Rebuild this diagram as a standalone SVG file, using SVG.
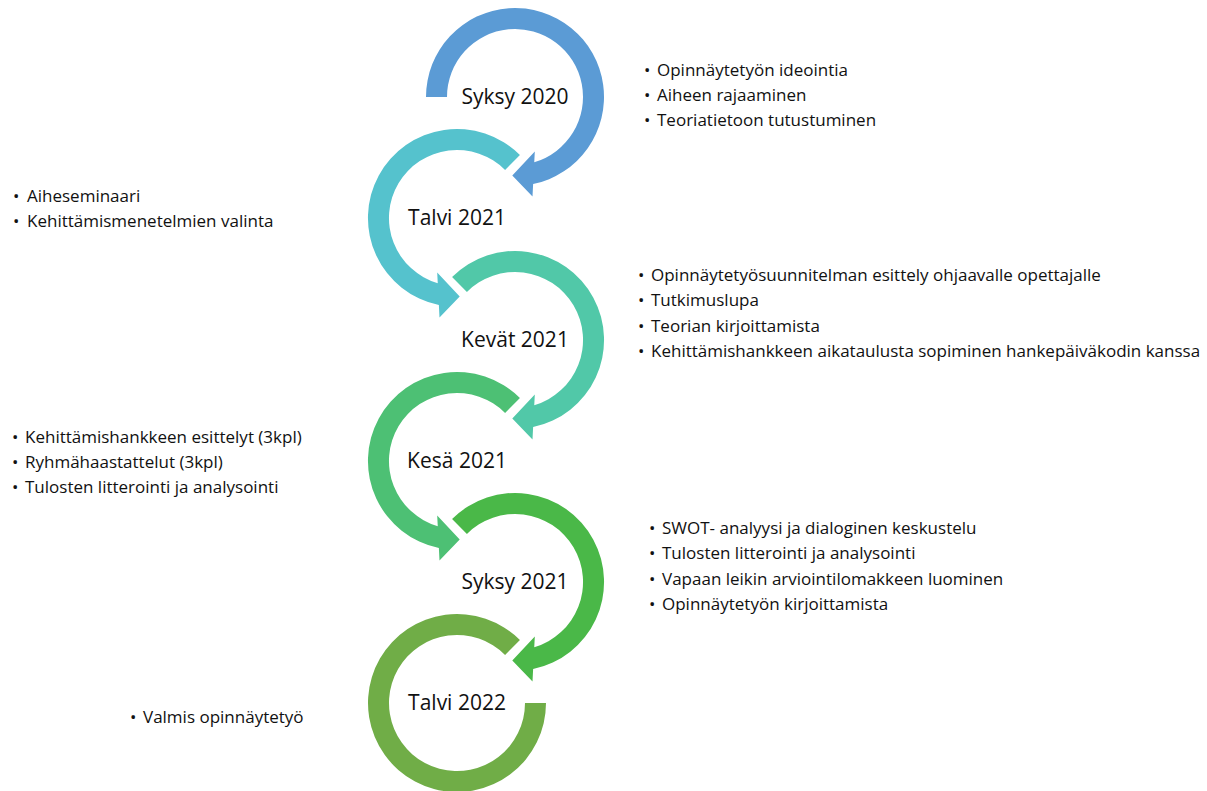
<svg xmlns="http://www.w3.org/2000/svg" xmlns:xlink="http://www.w3.org/1999/xlink" width="1207" height="791" viewBox="0 0 1207 791">
<style>
.lbl{font-family:"Open Sans","Liberation Sans",Arial,sans-serif;font-size:21px;fill:#111111;text-anchor:middle}
.b{font-family:"Open Sans","Liberation Sans",Arial,sans-serif;font-size:17px;fill:#111111}
</style>
<defs>
<path id="arrFirst" d="M -89 0 A 89 89 0 1 1 18.13 87.1 L 17.5 99.5 L -2.7 78.5 L 19.8 54.5 L 19.25 65.2 A 68 68 0 1 0 -68 0 Z"/>
<path id="arr" d="M -62.93 -62.93 A 89 89 0 1 1 18.13 87.1 L 17.5 99.5 L -2.7 78.5 L 19.8 54.5 L 19.25 65.2 A 68 68 0 1 0 -48.08 -48.08 Z"/>
<path id="ring" d="M 62.93 -62.93 A 89 89 0 1 0 89 0 L 68 0 A 68 68 0 1 1 48.08 -48.08 Z"/>
</defs>
<rect width="1207" height="791" fill="#ffffff"/>
<g id="connectors"></g>
<g id="syksy2020">
<use xlink:href="#arrFirst" transform="translate(515,97)" fill="#5B9BD5"/>
<text class="lbl" x="515" y="104">Syksy 2020</text>
</g>
<g id="talvi2021">
<use xlink:href="#arr" transform="translate(457,218) scale(-1,1)" fill="#55C2CD"/>
<text class="lbl" x="457" y="225">Talvi 2021</text>
</g>
<g id="kevat2021">
<use xlink:href="#arr" transform="translate(515,340)" fill="#51C8A8"/>
<text class="lbl" x="515" y="347">Kevät 2021</text>
</g>
<g id="kesa2021">
<use xlink:href="#arr" transform="translate(457,461) scale(-1,1)" fill="#4DC074"/>
<text class="lbl" x="457" y="468">Kesä 2021</text>
</g>
<g id="syksy2021">
<use xlink:href="#arr" transform="translate(515,582)" fill="#4AB848"/>
<text class="lbl" x="515" y="589">Syksy 2021</text>
</g>
<g id="talvi2022">
<use xlink:href="#ring" transform="translate(457,703)" fill="#70AD47"/>
<text class="lbl" x="457" y="710">Talvi 2022</text>
</g>
<g id="notes1">
<text class="b" x="644" y="76">•</text><text class="b" x="657" y="76">Opinnäytetyön ideointia</text>
<text class="b" x="644" y="101">•</text><text class="b" x="657" y="101">Aiheen rajaaminen</text>
<text class="b" x="644" y="126">•</text><text class="b" x="657" y="126">Teoriatietoon tutustuminen</text>
</g>
<g id="notes2">
<text class="b" x="13" y="202">•</text><text class="b" x="27" y="202">Aiheseminaari</text>
<text class="b" x="13" y="227">•</text><text class="b" x="27" y="227">Kehittämismenetelmien valinta</text>
</g>
<g id="notes3">
<text class="b" x="638" y="281">•</text><text class="b" x="651" y="281">Opinnäytetyösuunnitelman esittely ohjaavalle opettajalle</text>
<text class="b" x="638" y="306">•</text><text class="b" x="651" y="306">Tutkimuslupa</text>
<text class="b" x="638" y="332">•</text><text class="b" x="651" y="332">Teorian kirjoittamista</text>
<text class="b" x="638" y="357">•</text><text class="b" x="651" y="357">Kehittämishankkeen aikataulusta sopiminen hankepäiväkodin kanssa</text>
</g>
<g id="notes4">
<text class="b" x="12" y="443">•</text><text class="b" x="25" y="443">Kehittämishankkeen esittelyt (3kpl)</text>
<text class="b" x="12" y="468">•</text><text class="b" x="25" y="468">Ryhmähaastattelut (3kpl)</text>
<text class="b" x="12" y="493">•</text><text class="b" x="25" y="493">Tulosten litterointi ja analysointi</text>
</g>
<g id="notes5">
<text class="b" x="649" y="534">•</text><text class="b" x="662" y="534">SWOT- analyysi ja dialoginen keskustelu</text>
<text class="b" x="649" y="559">•</text><text class="b" x="662" y="559">Tulosten litterointi ja analysointi</text>
<text class="b" x="649" y="585">•</text><text class="b" x="662" y="585">Vapaan leikin arviointilomakkeen luominen</text>
<text class="b" x="649" y="610">•</text><text class="b" x="662" y="610">Opinnäytetyön kirjoittamista</text>
</g>
<g id="notes6">
<text class="b" x="130" y="723">•</text><text class="b" x="143" y="723">Valmis opinnäytetyö</text>
</g>
</svg>
